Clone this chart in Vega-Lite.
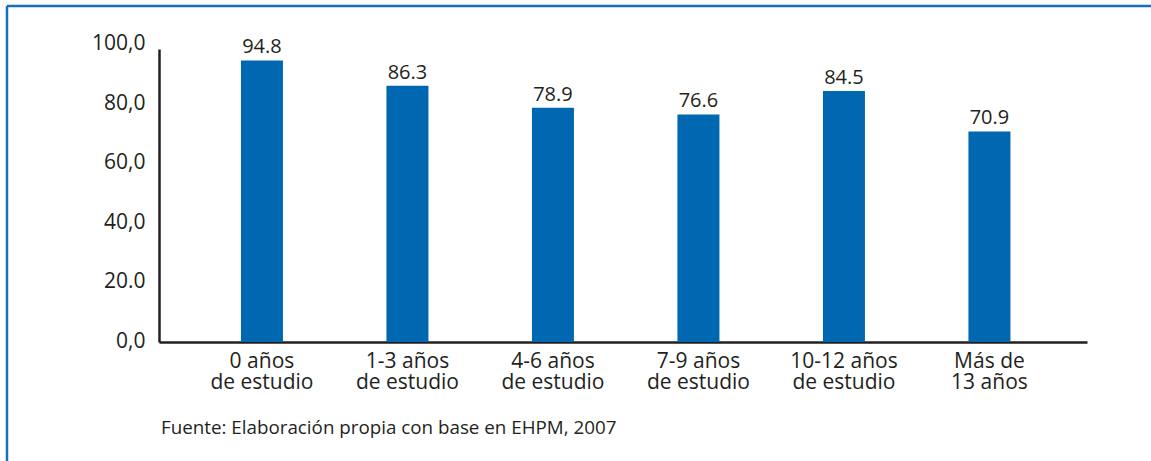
{
  "$schema": "https://vega.github.io/schema/vega-lite/v6.json",
  "autosize": {"type": "none"},
  "padding": {"left": 7, "top": 6, "right": 0, "bottom": 0},
  "width": 1144,
  "height": 455,
  "background": "#ffffff",
  "config": {
    "font": "Open Sans",
    "view": {"stroke": "#1a6fba", "strokeWidth": 2.5, "strokeDash": [1144, 1599, 455, 0], "fill": "#ffffff"}
  },
  "title": {
    "text": "Fuente: Elaboración propia con base en EHPM, 2007",
    "orient": "bottom",
    "anchor": "start",
    "frame": "group",
    "fontSize": 18.8,
    "fontWeight": "normal",
    "color": "#231f20",
    "baseline": "middle",
    "offset": 0,
    "dx": 154,
    "dy": -33
  },
  "data": {
    "values": [
      {"grupo": "0 años\nde estudio", "valor": 94.8},
      {"grupo": "1-3 años\nde estudio", "valor": 86.3},
      {"grupo": "4-6 años\nde estudio", "valor": 78.9},
      {"grupo": "7-9 años\nde estudio", "valor": 76.6},
      {"grupo": "10-12 años\nde estudio", "valor": 84.5},
      {"grupo": "Más de\n13 años", "valor": 70.9}
    ]
  },
  "encoding": {
    "x": {
      "field": "grupo",
      "type": "nominal",
      "sort": null,
      "scale": {"range": [152, 1080], "paddingInner": 0.7113, "paddingOuter": 0.5447, "align": 0.517},
      "axis": {
        "title": null,
        "orient": "bottom",
        "offset": -119,
        "domainColor": "#231f20",
        "domainWidth": 2.5,
        "ticks": false,
        "labelAngle": 0,
        "labelExpr": "split(datum.label, '\\n')",
        "labelFontSize": 21,
        "labelLineHeight": 21,
        "labelPadding": 8,
        "labelColor": "#231f20"
      }
    },
    "y": {
      "field": "valor",
      "type": "quantitative",
      "scale": {"domain": [-40.067, 113.131], "nice": false, "zero": false},
      "axis": {
        "title": null,
        "orient": "left",
        "offset": -152,
        "values": [0, 20, 40, 60, 80, 100],
        "grid": false,
        "ticks": false,
        "domainColor": "#231f20",
        "domainWidth": 2.5,
        "domainDash": [293, 2000],
        "domainDashOffset": 2174,
        "labelExpr": "datum.value == 20 ? '20.0' : format(datum.value, 'd') + ',0'",
        "labelFontSize": 21,
        "labelPadding": 14,
        "labelOffset": -1,
        "labelColor": "#231f20"
      }
    }
  },
  "layer": [
    {
      "mark": {"type": "bar", "color": "#0067b1"},
      "encoding": {"y2": {"datum": 0}}
    },
    {
      "mark": {"type": "text", "fontSize": 20, "color": "#231f20", "baseline": "alphabetic", "dy": -7},
      "encoding": {"text": {"field": "valor", "type": "quantitative", "format": ".1f"}}
    }
  ]
}
